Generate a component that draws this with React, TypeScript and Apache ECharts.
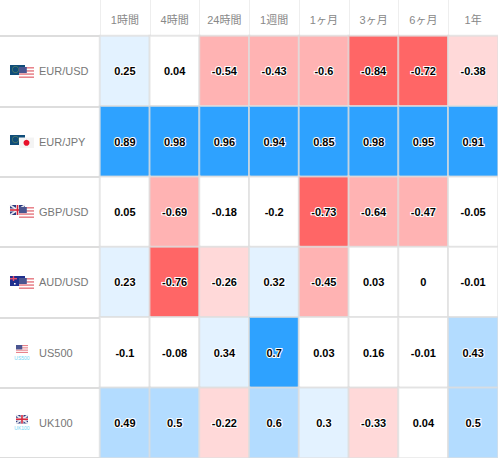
import React, { useEffect, useRef } from "react";
import * as echarts from "echarts";

const periods = ["1時間", "4時間", "24時間", "1週間", "1ヶ月", "3ヶ月", "6ヶ月", "1年"];
const pairs = ["EUR/USD", "EUR/JPY", "GBP/USD", "AUD/USD", "US500", "UK100"];
const eurUsd = [0.25, 0.04, -0.54, -0.43, -0.6, -0.84, -0.72, -0.38];
const eurJpy = [0.89, 0.98, 0.96, 0.94, 0.85, 0.98, 0.95, 0.91];
const gbpUsd = [0.05, -0.69, -0.18, -0.2, -0.73, -0.64, -0.47, -0.05];
const audUsd = [0.23, -0.76, -0.26, 0.32, -0.45, 0.03, 0, -0.01];
const us500 = [-0.1, -0.08, 0.34, 0.7, 0.03, 0.16, -0.01, 0.43];
const uk100 = [0.49, 0.5, -0.22, 0.6, 0.3, -0.33, 0.04, 0.5];
const rows = [eurUsd, eurJpy, gbpUsd, audUsd, us500, uk100];

const cells: [number, number, number][] = [];
rows.forEach((r, y) => r.forEach((v, x) => cells.push([x, y, v])));

const rect = (x: number, y: number, w: number, h: number, fill: string, z = 10): any => ({
  type: "rect", shape: { x, y, width: w, height: h }, style: { fill }, z, silent: true,
});

function usFlag(x: number, y: number, w: number, h: number, z: number): any[] {
  const out: any[] = [rect(x, y, w, h, "#ffffff", z)];
  const s = h / 7;
  for (let i = 0; i < 4; i++) out.push(rect(x, y + i * 2 * s, w, s, "#e8848c", z));
  out.push(rect(x, y, w * 0.52, h * 0.55, "#4a5590", z));
  return out;
}
function euFlag(x: number, y: number, z: number): any[] {
  return [
    rect(x, y, 15, 10, "#0f4d7a", z),
    { type: "ring", shape: { cx: x + 5.5, cy: y + 4.5, r: 3.4, r0: 2.9 }, style: { fill: "#6f8f5a" }, z, silent: true },
  ];
}
function jpFlag(x: number, y: number, z: number): any[] {
  return [
    rect(x, y, 15, 10.5, "#f4f4f4", z),
    { type: "circle", shape: { cx: x + 7.5, cy: y + 5.3, r: 3 }, style: { fill: "#e8102a" }, z, silent: true },
  ];
}
function ukFlag(x: number, y: number, w: number, h: number, z: number): any[] {
  return [
    rect(x, y, w, h, "#2b3a80", z),
    { type: "line", shape: { x1: x, y1: y, x2: x + w, y2: y + h }, style: { stroke: "#e8e8ee", lineWidth: 1.6 }, z, silent: true },
    { type: "line", shape: { x1: x + w, y1: y, x2: x, y2: y + h }, style: { stroke: "#e8e8ee", lineWidth: 1.6 }, z, silent: true },
    rect(x + w / 2 - 1.5, y, 3, h, "#f4f4f4", z),
    rect(x, y + h / 2 - 1.5, w, 3, "#f4f4f4", z),
    rect(x + w / 2 - 0.8, y, 1.6, h, "#d8273c", z),
    rect(x, y + h / 2 - 0.8, w, 1.6, "#d8273c", z),
  ];
}
function auFlag(x: number, y: number, z: number): any[] {
  return [
    rect(x, y, 15, 10, "#1f2f8f", z),
    rect(x, y + 2, 7, 1.4, "#e8506a", z),
    rect(x + 2.8, y, 1.4, 5, "#e8506a", z),
    rect(x + 9, y + 4, 1.6, 1.6, "#ffffff", z),
    rect(x + 4, y + 7, 1.6, 1.6, "#ffffff", z),
  ];
}
const tinyLabel = (text: string, y: number): any => ({
  type: "text", x: 22, y, z: 10, silent: true,
  style: { text, fill: "#6fd6f5", font: "5px 'Liberation Sans'", align: "center", verticalAlign: "middle" },
});

const flags: any[] = [
  ...euFlag(10, 65, 10), ...usFlag(19, 67, 15, 11, 11),
  ...euFlag(10, 135, 10), ...jpFlag(19, 137.5, 11),
  ...ukFlag(10, 205, 15, 10, 10), ...usFlag(19, 207, 15, 11, 11),
  ...auFlag(10, 276, 10), ...usFlag(19, 278, 15, 11, 11),
  ...usFlag(16, 345, 12, 8, 10), tinyLabel("US500", 358),
  ...ukFlag(16, 415, 12, 8.5, 10), tinyLabel("UK100", 428),
];

export default function App() {
  const ref = useRef<HTMLDivElement>(null);
  useEffect(() => {
    const chart = echarts.init(ref.current!, undefined, { renderer: "svg" });
    chart.setOption({
      animation: false,
      backgroundColor: "#ffffff",
      grid: { left: 100, top: 36, width: 398, height: 422.4 },
      xAxis: {
        type: "category",
        position: "top",
        data: periods,
        axisLine: { show: false },
        axisTick: { show: true, length: 36, lineStyle: { color: "#eeeeee", width: 1 } },
        axisLabel: { interval: 0, margin: 11, color: "#888888", fontSize: 11, fontFamily: "'Liberation Sans', 'Noto Sans CJK JP', sans-serif" },
        splitLine: { show: false },
      },
      yAxis: {
        type: "category",
        inverse: true,
        data: pairs,
        axisLine: { show: false },
        axisTick: { show: true, length: 100, lineStyle: { color: "#dddddd", width: 2 } },
        axisLabel: { interval: 0, align: "left", margin: 61, color: "#777777", fontSize: 11, fontFamily: "'Liberation Sans', sans-serif" },
        splitLine: { show: false },
      },
      visualMap: {
        show: false,
        type: "piecewise",
        dimension: 2,
        seriesIndex: 0,
        pieces: [
          { gte: 0.7, color: "#2ea2ff" },
          { gte: 0.4, lt: 0.7, color: "#b3dcff" },
          { gt: 0.2, lt: 0.4, color: "#e3f2ff" },
          { gte: -0.2, lte: 0.2, color: "#ffffff" },
          { gt: -0.4, lt: -0.2, color: "#ffd9d9" },
          { gt: -0.7, lte: -0.4, color: "#ffb3b3" },
          { lte: -0.7, color: "#ff6666" },
        ],
      },
      series: [
        {
          type: "heatmap",
          data: cells,
          itemStyle: { borderColor: "rgba(221,221,221,0.75)", borderWidth: 2 },
          label: {
            show: true,
            formatter: (p: any) => String(p.value[2]),
            color: "#000000",
            fontSize: 11,
            fontWeight: "bold",
            fontFamily: "'Liberation Sans', sans-serif",
            textBorderColor: "#ffffff",
            textBorderWidth: 2,
          },
          emphasis: { disabled: true },
        },
      ],
      graphic: { elements: flags },
    });
    return () => chart.dispose();
  }, []);
  return <div ref={ref} style={{ position: "absolute", left: 0, top: 0, width: 498, height: 458 }} />;
}
